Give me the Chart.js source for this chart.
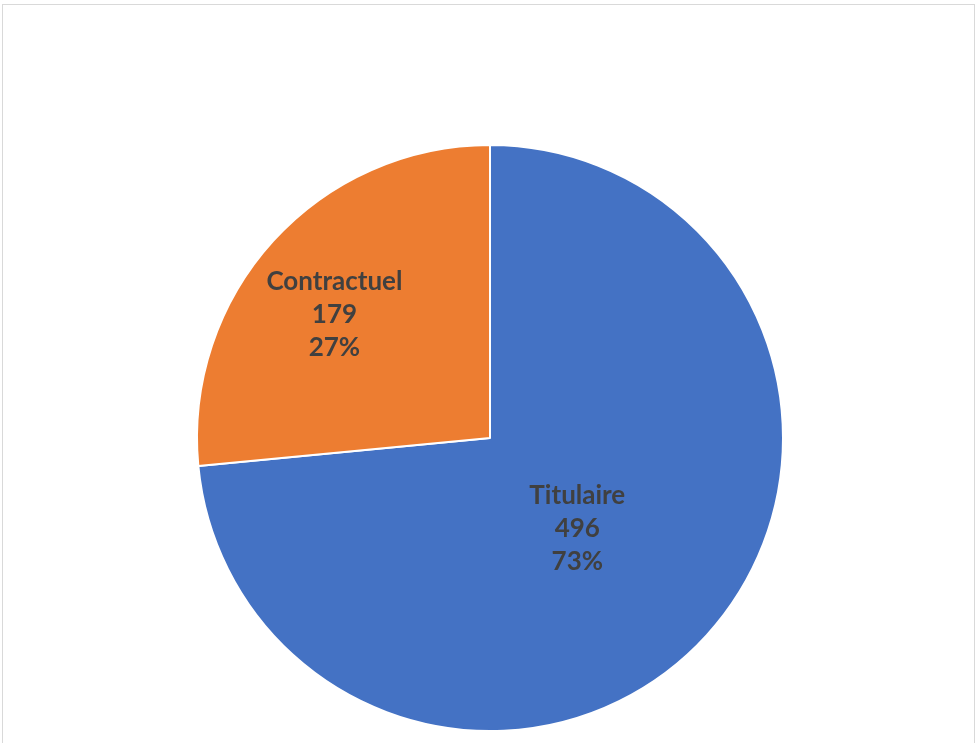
<!DOCTYPE html>
<html>
<head>
<meta charset="utf-8">
<script src="https://cdn.jsdelivr.net/npm/chart.js@4.4.1/dist/chart.umd.min.js"></script>
<style>
  html, body { margin: 0; padding: 0; background: #ffffff; overflow: hidden; }
  #wrap { position: absolute; left: 0; top: 0; width: 978px; height: 743px; }
  #frame { position: absolute; left: 2px; top: 4px; width: 973px; height: 760px; border: 1px solid #d9d9d9; box-sizing: border-box; }
  canvas { position: absolute; left: 0; top: 0; }
</style>
</head>
<body>
<div id="wrap">
  <div id="frame"></div>
  <canvas id="c" width="978" height="743"></canvas>
</div>
<script>
const categories = ["Titulaire", "Contractuel"];
const values = [496, 179];
const percentLabels = ["73%", "27%"];
const colors = ["#4472C4", "#ED7D31"];

const labelPlugin = {
  id: 'sliceLabels',
  afterDatasetsDraw(chart) {
    const ctx = chart.ctx;
    const meta = chart.getDatasetMeta(0);
    // label anchor offsets as fractions of the radius (x, y)
    const anchor = [[0.298, 0.308], [-0.531, -0.421]];
    ctx.save();
    ctx.fillStyle = '#404040';
    ctx.font = 'bold 26px Lato, "Open Sans", sans-serif';
    ctx.textAlign = 'center';
    ctx.textBaseline = 'middle';
    meta.data.forEach((arc, i) => {
      const p = arc.getProps(['x', 'y', 'outerRadius'], true);
      const cx = p.x + anchor[i][0] * p.outerRadius;
      const cy = p.y + anchor[i][1] * p.outerRadius;
      const lines = [categories[i], String(values[i]), percentLabels[i]];
      const lh = 33;
      lines.forEach((t, k) => {
        ctx.fillText(t, cx, cy + (k - 1) * lh);
      });
    });
    ctx.restore();
  }
};

new Chart(document.getElementById('c'), {
  type: 'pie',
  data: {
    labels: categories,
    datasets: [{
      data: values,
      backgroundColor: colors,
      borderColor: '#ffffff',
      borderWidth: 2
    }]
  },
  options: {
    responsive: false,
    animation: false,
    rotation: 0,
    layout: { padding: { top: 144, bottom: 11, left: 98, right: 96 } },
    plugins: {
      legend: { display: false },
      tooltip: { enabled: false }
    }
  },
  plugins: [labelPlugin]
});
</script>
</body>
</html>
